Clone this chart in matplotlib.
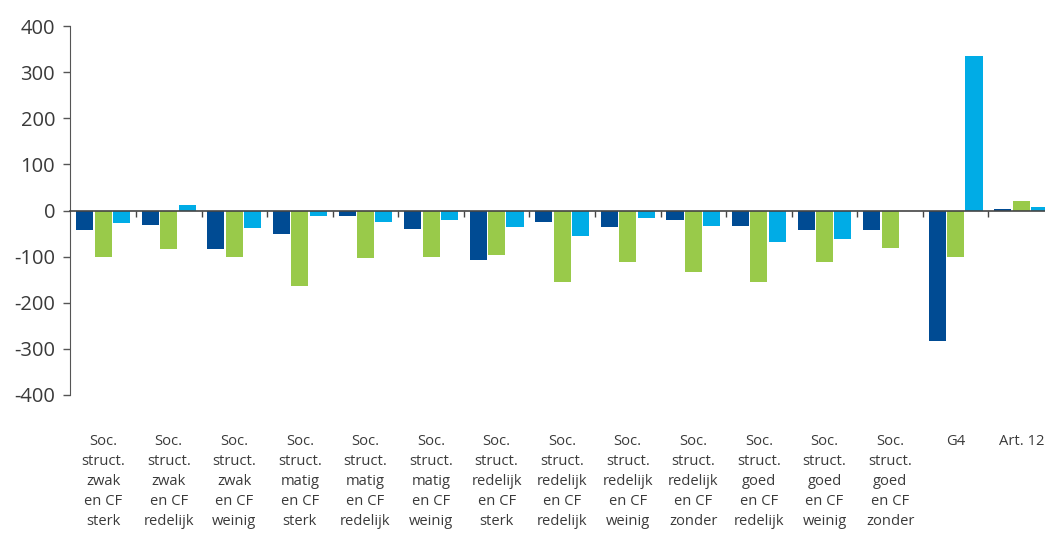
import matplotlib
matplotlib.use("Agg")
import matplotlib.pyplot as plt
import numpy as np

plt.rcParams["font.family"] = ["Open Sans", "DejaVu Sans"]
plt.rcParams["axes.unicode_minus"] = False

categories = [
    "Soc.\nstruct.\nzwak\nen CF\nsterk",
    "Soc.\nstruct.\nzwak\nen CF\nredelijk",
    "Soc.\nstruct.\nzwak\nen CF\nweinig",
    "Soc.\nstruct.\nmatig\nen CF\nsterk",
    "Soc.\nstruct.\nmatig\nen CF\nredelijk",
    "Soc.\nstruct.\nmatig\nen CF\nweinig",
    "Soc.\nstruct.\nredelijk\nen CF\nsterk",
    "Soc.\nstruct.\nredelijk\nen CF\nredelijk",
    "Soc.\nstruct.\nredelijk\nen CF\nweinig",
    "Soc.\nstruct.\nredelijk\nen CF\nzonder",
    "Soc.\nstruct.\ngoed\nen CF\nredelijk",
    "Soc.\nstruct.\ngoed\nen CF\nweinig",
    "Soc.\nstruct.\ngoed\nen CF\nzonder",
    "G4",
    "Art. 12",
]
serie_donker = [-43, -32, -84, -50, -12, -40, -107, -25, -36, -21, -33, -43, -43, -283, 4]
serie_groen = [-100, -84, -100, -163, -103, -100, -96, -156, -111, -134, -156, -111, -81, -100, 20]
serie_licht = [-28, 12, -39, -12, -24, -21, -36, -55, -17, -33, -69, -62, -2, 335, 8]
yticks = [-400, -300, -200, -100, 0, 100, 200, 300, 400]

DARK, GREEN, LIGHT = "#004B93", "#99CA4A", "#00ACE6"
TXT = "#3a3a3a"

fig = plt.figure(figsize=(10.45, 5.33), dpi=100)
ax = fig.add_axes([70.4 / 1045, 1 - 395 / 533, 983.6 / 1045, (395 - 26) / 533])

x = np.arange(len(categories))
w, off = 0.26, 0.28
ax.bar(x - off, serie_donker, w, color=DARK, zorder=2)
ax.bar(x, serie_groen, w, color=GREEN, zorder=2)
ax.bar(x + off, serie_licht, w, color=LIGHT, zorder=2)

ax.set_xlim(-0.5, len(categories) - 0.5)
ax.set_ylim(-400, 400)
ax.set_yticks(yticks)
ax.set_yticklabels([str(v) for v in yticks])
ax.tick_params(axis="y", direction="out", length=5, width=1, colors="#555555",
               labelcolor=TXT, labelsize=14.5, pad=6)

# category axis sits on the zero line, ticks between groups
ax.spines["bottom"].set_position(("data", 0))
ax.spines["bottom"].set_color("#444444")
ax.spines["bottom"].set_linewidth(1.2)
ax.spines["left"].set_color("#555555")
ax.spines["top"].set_visible(False)
ax.spines["right"].set_visible(False)
ax.set_xticks(np.arange(0.5, len(categories) - 0.5, 1.0))
ax.set_xticklabels([])
ax.tick_params(axis="x", direction="out", length=4, width=1, colors="#444444")

for i, lab in enumerate(categories):
    ax.text(i, -484, lab, ha="center", va="top", fontsize=10.6, color=TXT,
            linespacing=1.47, clip_on=False)

fig.savefig("out.png", dpi=100)
